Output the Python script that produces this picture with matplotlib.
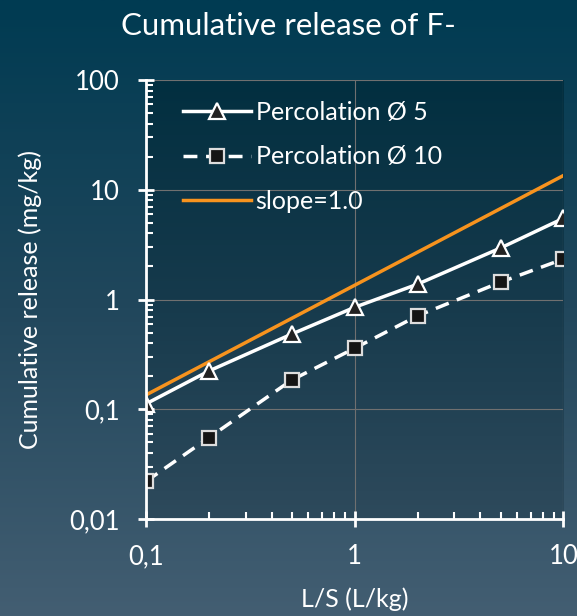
import numpy as np
import matplotlib.pyplot as plt
from matplotlib.colors import LinearSegmentedColormap
from matplotlib.ticker import FixedLocator, FixedFormatter, LogLocator, NullFormatter

plt.rcParams['font.family'] = ['Lato', 'DejaVu Sans']

# données
ls = [0.1, 0.2, 0.5, 1, 2, 5, 10]
perc_5 = [0.112, 0.223, 0.485, 0.85, 1.38, 2.95, 5.5]
perc_10 = [0.022, 0.055, 0.185, 0.36, 0.71, 1.44, 2.34]
slope_x = [0.1, 10]
slope_y = [0.135, 13.5]

x_ticks = [0.1, 1, 10]
x_labels = ['0,1', '1', '10']
y_ticks = [0.01, 0.1, 1, 10, 100]
y_labels = ['0,01', '0,1', '1', '10', '100']

fig = plt.figure(figsize=(5.77, 6.16), dpi=100)

# fond en dégradé
bg = fig.add_axes([0, 0, 1, 1], zorder=-10)
bg_cmap = LinearSegmentedColormap.from_list('bg', ['#435e72', '#21475c', '#003b52'])
bg.imshow(np.linspace(0, 1, 256).reshape(-1, 1), cmap=bg_cmap, aspect='auto',
          extent=[0, 1, 0, 1], origin='lower')
bg.axis('off')

ax = fig.add_axes([0.253, 0.1575, 0.7235, 0.7125])
ax.set_xscale('log')
ax.set_yscale('log')
ax.set_xlim(0.1, 10)
ax.set_ylim(0.01, 100)

plot_cmap = LinearSegmentedColormap.from_list('pl', ['#2e4a5c', '#163a4c', '#022f40'])
ax.imshow(np.linspace(0, 1, 256).reshape(-1, 1), cmap=plot_cmap, aspect='auto',
          extent=[0, 1, 0, 1], origin='lower', transform=ax.transAxes, zorder=0)
ax.set_facecolor('none')

ax.grid(True, which='major', color='#707070', linewidth=0.8, zorder=1)

ax.plot(ls, perc_5, color='white', linewidth=2.5, marker='^', markersize=11,
        markerfacecolor='#222222', markeredgecolor='white', markeredgewidth=1.6,
        label='Percolation Ø 5', zorder=4)
ax.plot(ls, perc_10, color='white', linewidth=2.5, linestyle=(0, (4, 2.5)), marker='s',
        markersize=10, markerfacecolor='#151515', markeredgecolor='#dddddd',
        markeredgewidth=1.6, label='Percolation Ø 10', zorder=4)
ax.plot(slope_x, slope_y, color='#f7931e', linewidth=2.5, label='slope=1.0', zorder=3)

for s in ['top', 'right']:
    ax.spines[s].set_visible(False)
for s in ['left', 'bottom']:
    ax.spines[s].set_color('white')
    ax.spines[s].set_linewidth(2)
    ax.spines[s].set_zorder(5)

ax.xaxis.set_major_locator(FixedLocator(x_ticks))
ax.xaxis.set_major_formatter(FixedFormatter(x_labels))
ax.yaxis.set_major_locator(FixedLocator(y_ticks))
ax.yaxis.set_major_formatter(FixedFormatter(y_labels))
ax.xaxis.set_minor_locator(LogLocator(base=10, subs=np.arange(2, 10)))
ax.yaxis.set_minor_locator(LogLocator(base=10, subs=np.arange(2, 10)))
ax.xaxis.set_minor_formatter(NullFormatter())
ax.yaxis.set_minor_formatter(NullFormatter())
ax.tick_params(which='major', direction='inout', length=12, width=2, colors='white',
               labelsize=18.5)
ax.tick_params(axis='y', which='major', pad=13)
ax.tick_params(axis='x', which='major', pad=12)
ax.tick_params(which='minor', direction='in', length=5, width=1.5, colors='white')

ax.set_xlabel('L/S (L/kg)', color='white', fontsize=18)
ax.set_ylabel('Cumulative release (mg/kg)', color='white', fontsize=18)
ax.xaxis.set_label_coords(0.5, -0.155)
ax.yaxis.set_label_coords(-0.25, 0.5)
fig.text(0.5, 0.958, 'Cumulative release of F-', color='white', fontsize=22.5,
         ha='center', va='center')

leg = ax.legend(loc='upper left', frameon=False, fontsize=18, handlelength=2.7,
                handletextpad=0.2, labelspacing=0.85, borderaxespad=0,
                bbox_to_anchor=(0.065, 0.975))
for t in leg.get_texts():
    t.set_color('white')

fig.savefig('out.png', dpi=100)
